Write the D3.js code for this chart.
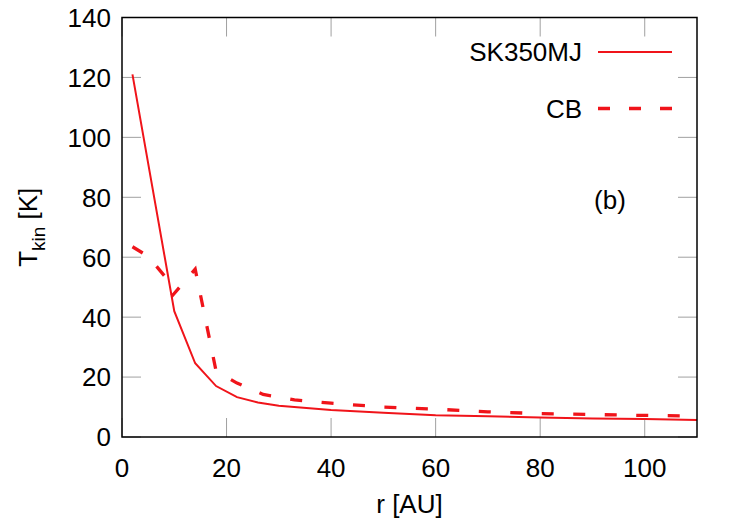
<!DOCTYPE html>
<html>
<head>
<meta charset="utf-8">
<script src="https://cdn.jsdelivr.net/npm/d3@7"></script>
<style>
	body{margin:0;background:#fff;}
	text{font-family:"Liberation Sans", Arial, sans-serif;fill:#000;}
</style>
</head>
<body>
<div id="chart"></div>
<script>

//data
const skR = [2, 10, 14, 18, 22, 26, 30, 40, 50, 60, 70, 80, 90, 100, 110];
const skT = [121, 42, 24.6, 17, 13.3, 11.5, 10.4, 9.0, 8.1, 7.3, 6.9, 6.5, 6.2, 6.0, 5.7];

const cbR = [2, 5, 8.2, 9.7, 14, 18, 22, 27, 33, 40, 50, 60, 70, 80, 90, 100, 110];
const cbT = [63.5, 60.3, 53.6, 47.3, 56, 22, 18, 14.2, 12.4, 11.3, 10, 9.3, 8.4, 7.8, 7.5, 7.2, 7.0];

const xTicks = [0, 20, 40, 60, 80, 100];
const yTicks = [0, 20, 40, 60, 80, 100, 120, 140];

const seriesNames = ["SK350MJ", "CB"];


function graph1(){

	//sizing
	let margin = {top:17.5, right:53, bottom:88, left:122};
	const width = 750;
	const height = 525;
	const red = "#f0141a";

	let svg = d3.select("#chart")
		.append("svg")
		.attr("width", width)
		.attr("height", height);

	let x = d3.scaleLinear()
		.domain([0, 110])
		.range([margin.left, width - margin.right]);

	let y = d3.scaleLinear()
		.domain([0, 140])
		.range([height - margin.bottom, margin.top]);

	//ticks, drawn inside the frame and mirrored
	let tickLen = 19;
	let ticks = svg.append("g").attr("stroke", "#a0a0a0").attr("stroke-width", 1);

	xTicks.forEach(function(t){
		ticks.append("line")
			.attr("x1", x(t)).attr("x2", x(t))
			.attr("y1", y(0)).attr("y2", y(0) - tickLen);
		ticks.append("line")
			.attr("x1", x(t)).attr("x2", x(t))
			.attr("y1", y(140)).attr("y2", y(140) + tickLen);
	});

	yTicks.forEach(function(t){
		ticks.append("line")
			.attr("x1", x(0)).attr("x2", x(0) + tickLen)
			.attr("y1", y(t)).attr("y2", y(t));
		ticks.append("line")
			.attr("x1", x(110)).attr("x2", x(110) - tickLen)
			.attr("y1", y(t)).attr("y2", y(t));
	});

	//tick labels
	svg.append("g")
		.selectAll("text")
		.data(xTicks)
		.enter().append("text")
		.attr("x", (d)=>{return x(d);})
		.attr("y", 477)
		.attr("text-anchor", "middle")
		.attr("font-size", 26)
		.text((d)=>{return d;});

	svg.append("g")
		.selectAll("text")
		.data(yTicks)
		.enter().append("text")
		.attr("x", 111)
		.attr("y", (d)=>{return y(d);})
		.attr("dy", "0.36em")
		.attr("text-anchor", "end")
		.attr("font-size", 26)
		.text((d)=>{return d;});

	//lines
	let line = d3.line()
		.x((d)=>{return x(d[0]);})
		.y((d)=>{return y(d[1]);});

	let clip = svg.append("clipPath").attr("id", "clip")
		.append("rect")
		.attr("x", x(0)).attr("y", y(140))
		.attr("width", x(110) - x(0))
		.attr("height", y(0) - y(140));

	svg.append("path")
		.datum(cbR.map((r, i)=>{return [r, cbT[i]];}))
		.attr("clip-path", "url(#clip)")
		.attr("fill", "none")
		.attr("stroke", red)
		.attr("stroke-width", 3.3)
		.attr("stroke-dasharray", "12,19.5")
		.attr("d", line);

	svg.append("path")
		.datum(skR.map((r, i)=>{return [r, skT[i]];}))
		.attr("clip-path", "url(#clip)")
		.attr("fill", "none")
		.attr("stroke", red)
		.attr("stroke-width", 2)
		.attr("d", line);

	//frame
	svg.append("rect")
		.attr("x", x(0)).attr("y", y(140))
		.attr("width", x(110) - x(0))
		.attr("height", y(0) - y(140))
		.attr("fill", "none")
		.attr("stroke", "#000")
		.attr("stroke-width", 1.5);

	//legend
	let legY = [52, 108.5];
	seriesNames.forEach(function(name, i){
		svg.append("text")
			.attr("x", 582)
			.attr("y", legY[i])
			.attr("dy", "0.36em")
			.attr("text-anchor", "end")
			.attr("font-size", 26)
			.text(name);

		svg.append("line")
			.attr("x1", 598).attr("x2", 672)
			.attr("y1", legY[i]).attr("y2", legY[i])
			.attr("stroke", red)
			.attr("stroke-width", i == 0 ? 2 : 3.3)
			.attr("stroke-dasharray", i == 0 ? null : "12,19");
	});

	svg.append("text")
		.attr("x", 610)
		.attr("y", 209)
		.attr("text-anchor", "middle")
		.attr("font-size", 26)
		.text("(b)");

	//axis titles
	svg.append("text")
		.attr("x", (x(0) + x(110))/2)
		.attr("y", 513)
		.attr("text-anchor", "middle")
		.attr("font-size", 26)
		.text("r [AU]");

	let yTitle = svg.append("text")
		.attr("transform", "translate(37," + (y(0) + y(140))/2 + ") rotate(-90)")
		.attr("text-anchor", "middle")
		.attr("font-size", 26);
	yTitle.append("tspan").text("T");
	yTitle.append("tspan").attr("dy", 8).attr("font-size", 19).text("kin");
	yTitle.append("tspan").attr("dy", -8).text(" [K]");

} //function graph1


graph1();

</script>
</body>
</html>
